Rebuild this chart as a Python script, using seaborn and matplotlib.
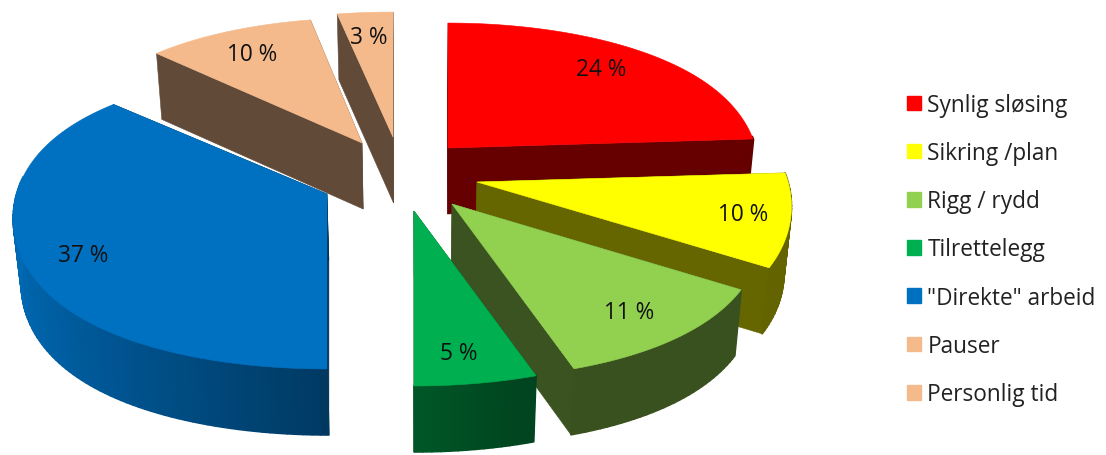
import numpy as np
import matplotlib
matplotlib.use("Agg")
import matplotlib.pyplot as plt
from matplotlib.collections import PolyCollection
from matplotlib.patches import Patch, Polygon
import seaborn as sns

# Share of working time per activity, in percent
categories = ["Synlig sløsing", "Sikring /plan", "Rigg / rydd", "Tilrettelegg",
              "\"Direkte\" arbeid", "Pauser", "Personlig tid"]
shares = [24, 10, 11, 5, 37, 10, 3]

# Slice appearance and layout (tip of each exploded slice, label anchor, width factor)
slice_hex = ["#FF0000", "#FFFF00", "#92D050", "#00B050", "#0070C0", "#F5BA8C", "#F5BA8C"]
slice_tips = [(448, 149), (477, 183), (452, 205), (414, 212), (327, 195), (362, 144), (393, 138)]
label_anchors = [(601, 70), (743, 215), (629, 313), (459, 354), (83, 256), (252, 55), (369, 38)]
width_factors = [1.0, 1.01, 1.0, 1.0, 1.008, 0.97, 1.05]
draw_order = [6, 5, 4, 0, 1, 2, 3]

RADIUS_Y, PERSPECTIVE = 145.8, 0.1667
THICKNESS, TAPER, AXIS_X = 66.0, 0.98, 420.0

sns.set_theme(style="white")
plt.rcParams["font.family"] = ["Open Sans", "DejaVu Sans"]
palette = sns.color_palette(slice_hex)


def rim_point(tip, turn, widen):
    """Project a point on the rim, `turn` radians clockwise from the back."""
    u, w = np.sin(turn), np.cos(turn)
    half_width = 308.0 - 40.0 * w + 35.0 * w ** 2 - 20.0 * w ** 3
    s = 1.0 / (1.0 + PERSPECTIVE * w)
    return np.array([tip[0] + half_width * widen * u, tip[1] - RADIUS_Y * w * s])


def lowered(p):
    """Same point on the underside of the pie."""
    p = np.asarray(p, float)
    return np.array([AXIS_X + (p[0] - AXIS_X) * TAPER, p[1] + THICKNESS])


def shade(rgb, factor):
    return tuple(c * factor for c in rgb)


def rim_tone(turn):
    """Brightness of the outer wall: light on the far left, dark towards the right."""
    u = np.sin(turn)
    level = 0.52 - 0.42 * u if u < 0 else 0.5 - 0.4 * u
    return float(np.clip(level, 0.39, 0.95))


fig = plt.figure(figsize=(11.06, 4.56), dpi=100)
ax = fig.add_axes([0, 0, 1, 1])
ax.set_xlim(0, 1106)
ax.set_ylim(456, 0)
ax.axis("off")

edges = np.radians(np.concatenate([[0], np.cumsum(shares)]) * 3.6)

for depth, i in enumerate(draw_order):
    tip, color = slice_tips[i], palette[i]
    turns = np.linspace(edges[i], edges[i + 1], max(8, int(shares[i] * 3)))
    rim = np.array([rim_point(tip, t, width_factors[i]) for t in turns])

    # side walls along the two straight cuts
    for end in (rim[0], rim[-1]):
        wall = [tip, end, lowered(end), lowered(tip)]
        ax.add_patch(Polygon(wall, closed=True, fc=shade(color, 0.4), ec=shade(color, 0.4),
                             lw=0.4, zorder=depth * 3))

    # curved outer wall; only the part facing the viewer
    quads, tones = [], []
    for a, b, t in zip(rim[:-1], rim[1:], turns[:-1]):
        if np.cos(t) < 0.1:
            quads.append([a, b, lowered(b), lowered(a)])
            tones.append(shade(color, rim_tone(t)))
    if quads:
        ax.add_collection(PolyCollection(quads, facecolors=tones, edgecolors=tones,
                                         linewidths=1.2, zorder=depth * 3 + 1))

    # top face
    ax.add_patch(Polygon(np.vstack([[tip], rim]), closed=True, fc=color, ec=color, lw=0.4,
                         zorder=depth * 3 + 2))

for value, (x, y) in zip(shares, label_anchors):
    ax.text(x, y, f"{value} %", ha="center", va="center", fontsize=16.3, color="#111111", zorder=50)

handles = [Patch(facecolor=c, edgecolor=c) for c in palette]
ax.legend(handles, categories, loc="center left", bbox_to_anchor=(907 / 1106, 1 - 250.5 / 456),
          frameon=False, fontsize=16.3, labelspacing=1.07, handlelength=0.62, handleheight=0.62,
          handletextpad=0.28, borderpad=0, borderaxespad=0, labelcolor="#222222")

fig.savefig("out.png", dpi=100)
